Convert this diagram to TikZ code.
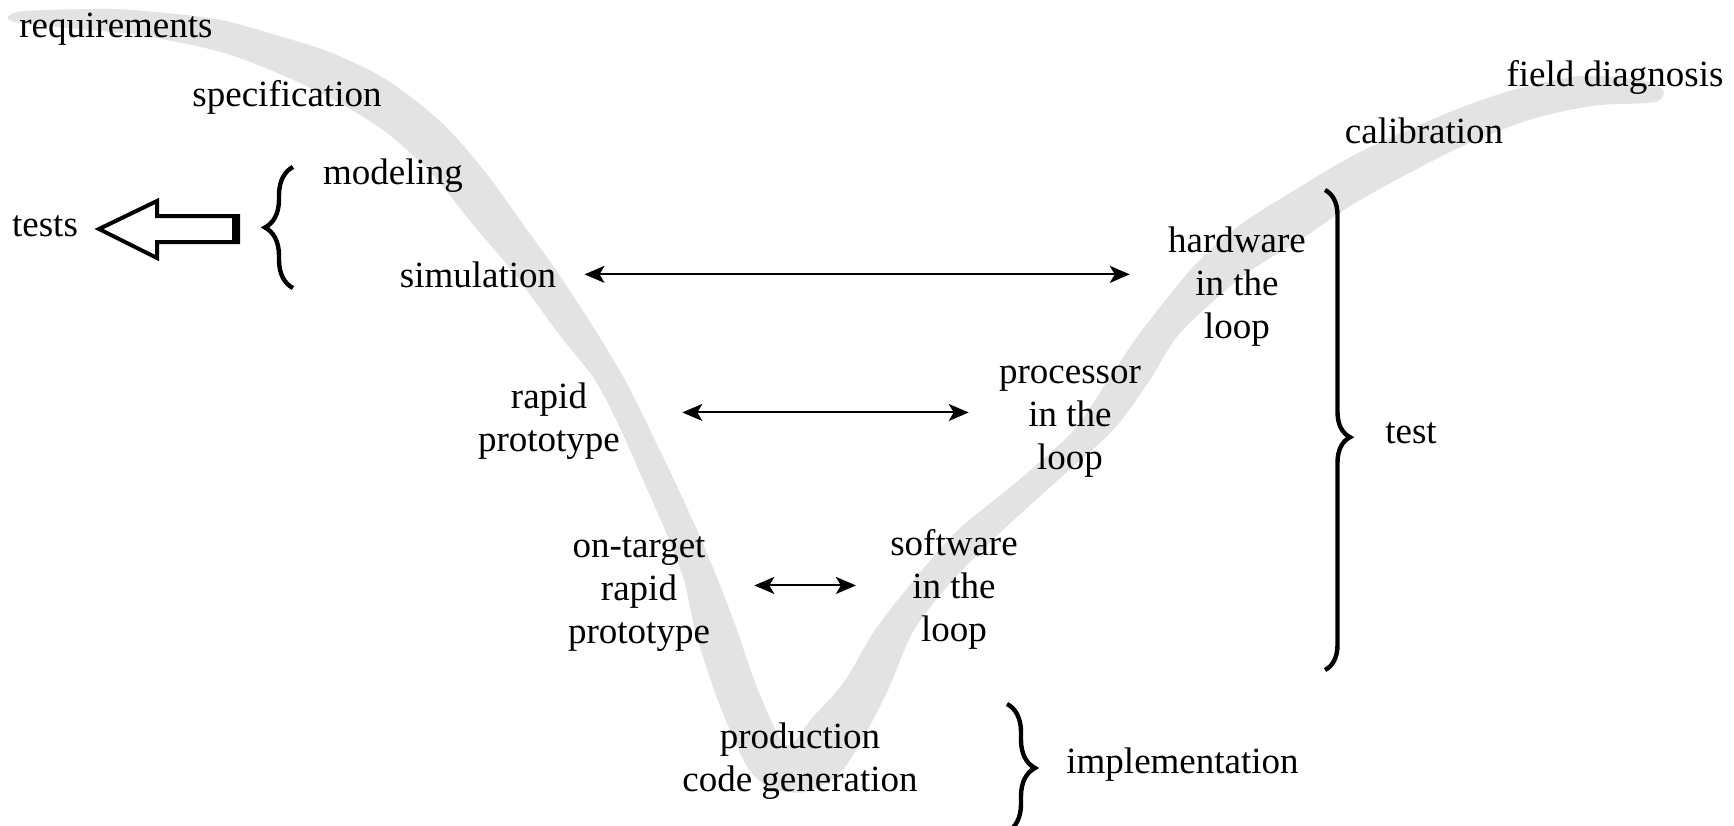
\documentclass[tikz,border=0pt]{standalone}
\usepackage{fontspec}
\setmainfont{Liberation Serif}
\usetikzlibrary{arrows.meta,decorations.pathreplacing,calc}
\definecolor{vgray}{RGB}{227,227,227}
\begin{document}
\begin{tikzpicture}[x=0.5pt,y=-0.5pt,
  lbl/.style={inner sep=0pt, font=\fontsize{18.5}{21.5}\selectfont},
  blk/.style={lbl, align=center, anchor=north},
  dblarrow/.style={line width=1pt, {Stealth[length=10pt,width=8.5pt,inset=2.5pt]}-{Stealth[length=10pt,width=8.5pt,inset=2.5pt]}},
  bracestyle/.style={line width=2.2pt, decorate, decoration={brace, amplitude=#1}},
  bigarrow/.style={line width=2pt, line join=miter},
]
\clip (0,0) rectangle (1734,825);
\fill[white] (0,0) rectangle (1734,825);
% grey V band
\fill[vgray] plot[smooth cycle, tension=0.5] coordinates {
 (8,17) (25,11) (111,9) (166,13) (221,20) (276,35) (332,53) (387,80) (442,123)
 (486,173) (525,227) (558,273) (597,333) (625,380) (650,430) (674,480) (697,530)
 (718,580) (737,630) (758,690) (786,745) (812,718) (844,682) (875,630) (914,580)
 (958,530) (1019,480) (1074,430) (1108,380) (1140,333) (1193,267) (1240,225)
 (1290,193) (1360,152) (1450,112) (1513,90) (1580,76) (1640,80) (1663,90)
 (1655,102) (1600,105) (1560,112) (1517,124) (1450,152) (1360,200) (1300,240)
 (1243,276) (1180,333) (1150,380) (1113,430) (1058,480) (1003,530) (953,580)
 (914,630) (888,690) (862,740) (838,775) (805,792) (770,788) (748,768) (730,730)
 (714,690) (695,630) (684,580) (665,530) (643,480) (621,430) (595,380) (558,333)
 (514,273) (475,227) (431,173) (387,133) (343,105) (287,77) (221,52) (138,35)
 (55,27) (15,22)};
% single-line labels
\node[lbl, anchor=base] (req) at (116,37) {requirements};
\node[lbl, anchor=base] (spec) at (287,106) {specification};
\node[lbl, anchor=base] (model) at (393,184) {modeling};
\node[lbl, anchor=base] (tests) at (45,236) {tests};
\node[lbl, anchor=base] (sim) at (478,287) {simulation};
\node[lbl, anchor=base] (calib) at (1424,143) {calibration};
\node[lbl, anchor=base] (field) at (1615,86) {field diagnosis};
\node[lbl, anchor=base] (test) at (1411,443) {test};
\node[lbl, anchor=base west] (impl) at (1066,773) {implementation};
% multi-line blocks
\node[blk] (hw) at (1237,222) {\strut hardware\\in the\\loop};
\node[blk] (proc) at (1070,353) {\strut processor\\in the\\loop};
\node[blk] (rp) at (549,378) {\strut rapid\\prototype};
\node[blk] (otrp) at (639,527) {\strut on-target\\rapid\\prototype};
\node[blk] (sil) at (954,525) {\strut software\\in the\\loop};
\node[blk] (pcg) at (800,718) {\strut production\\code generation};
% double arrows
\draw[dblarrow] ([xshift=14pt]sim.east) -- ([xshift=-19pt]sim.east -| hw.west);
\draw[dblarrow] ([xshift=31pt,yshift=3.25pt]rp.east) -- ([xshift=-15pt,yshift=3.25pt]rp.east -| proc.west);
\draw[dblarrow] ([xshift=22pt,yshift=2pt]otrp.east) -- ([xshift=-17pt,yshift=2pt]otrp.east -| sil.west);
% hollow arrow to tests
\draw[bigarrow] (99,229) -- (157,201) -- (157,216) -- (238,216) -- (238,242) -- (157,242) -- (157,258) -- cycle;
\draw[line width=3.5pt] (235,216) -- (235,242);
% braces
\draw[bracestyle=14pt] (293,288) -- (293,167);
\draw[bracestyle=12.5pt, decoration={aspect=0.515}] (1325,190) -- (1325,670);
\draw[bracestyle=14pt] (1007,704) -- (1007,832);
\end{tikzpicture}
\end{document}
